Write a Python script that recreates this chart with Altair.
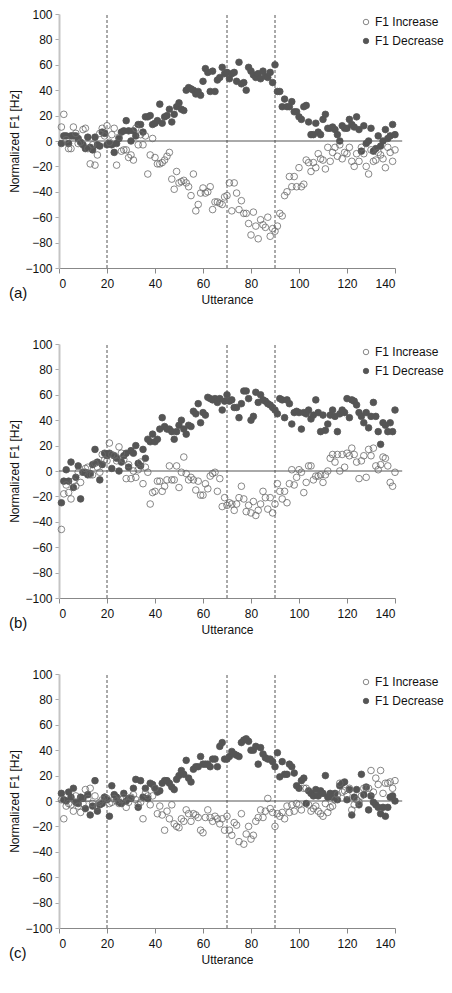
import altair as alt
import pandas as pd

utterance = list(range(1, 141))
series_names = ["F1 Increase", "F1 Decrease"]
x_ticks = [0, 20, 40, 60, 80, 100, 120, 140]
y_ticks = [-100, -80, -60, -40, -20, 0, 20, 40, 60, 80, 100]
boundaries = [20, 70, 90]
panel_labels = ["(a)", "(b)", "(c)"]

a_inc = [11, 21, 1, -6, -6, 11, 6, -2, -1, 9,
         10, -6, -18, -3, -19, -11, 6, 10, 4, 12,
         -1, 5, 10, -19, 3, -8, -7, -7, -13, -11,
         -15, 10, -3, 5, -3, 4, -26, -11, 2, -13,
         -18, -18, -17, -15, -12, -9, -30, -38, -24, -33,
         -32, -31, -33, -36, -43, -26, -55, -50, -41, -37,
         -41, -40, -36, -54, -48, -48, -49, -50, -44, -43,
         -33, -55, -33, -41, -54, -47, -57, -57, -65, -74,
         -56, -67, -77, -62, -66, -68, -60, -75, -69, -71,
         -67, -57, -59, -43, -40, -28, -36, -28, -36, -21,
         -36, -34, -15, -17, -24, -17, -21, -10, -14, -15,
         -22, -5, -16, -9, -5, -12, -3, -14, -9, -10,
         -5, -16, -20, -10, -16, -5, -10, -20, -26, -7,
         -16, -15, -9, -11, -14, -21, -5, -9, -16, -7]
a_dec = [-2, 4, 4, -2, 4, 4, 4, 2, -1, -3,
         -6, 3, -5, -7, 3, -3, -4, 7, 6, -3,
         -2, -3, -9, -2, 2, 7, 8, 16, 8, 0,
         8, 4, 13, 13, 7, 19, 19, 20, 13, 14,
         16, 29, 14, 19, 20, 25, 15, 21, 27, 30,
         25, 24, 40, 42, 41, 40, 37, 39, 36, 47,
         57, 54, 39, 55, 39, 48, 50, 58, 53, 54,
         49, 53, 54, 47, 62, 45, 46, 40, 58, 55,
         52, 50, 53, 49, 55, 51, 50, 54, 46, 60,
         39, 39, 27, 33, 27, 27, 31, 23, 23, 19,
         17, 27, 28, 15, 5, 5, 14, 7, 5, 17,
         21, 10, 10, 11, 9, 5, 0, 12, 10, 10,
         17, 13, 11, 19, 9, -8, 12, -2, 0, 10,
         -8, -6, 4, -4, 0, 9, 2, 4, 13, 5]

b_inc = [-46, -18, -11, -17, -22, -8, -12, -1, -9, -1,
         2, 3, -3, -3, 6, 3, -1, 13, 9, 8,
         22, 13, 12, 8, 19, 14, 9, -6, 5, -6,
         0, -5, 1, 7, -10, 3, -1, -26, -17, -16,
         -8, -8, -16, -12, -7, 4, -7, -7, 4, -13,
         -1, 11, -2, -7, -5, -7, -15, -8, -19, -19,
         -10, -14, -4, -2, -1, -16, -6, -28, -21, -27,
         -25, -26, -31, -26, -21, -12, -22, -32, -27, -33,
         -24, -35, -31, -26, -16, -21, -30, -21, -33, -26,
         -10, -16, -22, -16, -25, -10, 1, -11, -5, 1,
         -1, -17, -9, 4, 4, -7, -4, -4, -3, -9,
         -3, 0, 10, 13, 7, 13, 0, 13, 3, 14,
         12, 18, 13, 7, -6, 8, 12, -5, 17, 12,
         18, 4, 1, 5, 11, 10, 4, -9, -12, -1]
b_dec = [-25, -8, 1, -8, 7, -13, -5, 4, -22, -1,
         -1, -3, -2, 5, 17, 7, -7, 5, 14, 12,
         14, 2, 12, 10, 0, 7, 12, 14, 3, 16,
         14, 20, 6, 4, 17, 10, 25, 23, 29, 23,
         25, 33, 42, 35, 33, 33, 31, 25, 31, 36,
         40, 33, 29, 36, 35, 47, 45, 53, 38, 46,
         44, 58, 57, 56, 57, 54, 57, 48, 55, 60,
         55, 56, 50, 50, 42, 53, 63, 63, 57, 40,
         43, 62, 54, 60, 56, 55, 53, 52, 50, 48,
         45, 57, 56, 42, 56, 53, 37, 46, 47, 46,
         33, 46, 45, 48, 41, 44, 56, 46, 31, 44,
         32, 37, 44, 48, 43, 31, 45, 48, 46, 57,
         42, 56, 55, 52, 46, 43, 38, 46, 34, 43,
         54, 43, 31, 21, 38, 36, 31, 38, 31, 48]

c_inc = [1, -14, -4, -2, -3, -8, 4, -4, -9, -2,
         9, 2, 10, -2, 4, -4, -1, 1, 3, 2,
         -2, -1, 2, 0, -2, 1, 3, -5, -1, 3,
         5, 1, -3, -1, -14, 6, 4, -3, 4, 10,
         -10, -4, -11, -23, -8, -14, -3, -18, -20, -21,
         -14, -16, -7, -10, -16, -10, -11, -13, -23, -25,
         -13, -7, -13, -16, -12, -14, -18, -14, -23, -12,
         -23, -27, -17, -19, -32, -10, -34, -26, -20, -30,
         -27, -16, -13, -7, -13, -8, 2, -6, -9, -20,
         -10, -12, -9, -14, -4, -9, -3, -8, -2, -3,
         -7, 10, 10, -3, -8, -6, -4, -8, -10, -12,
         -2, -9, -5, -4, 1, 5, 14, 7, 8, 5,
         10, -7, -3, 1, -1, 4, 10, 10, 10, 24,
         7, 18, 13, 24, 6, 14, 14, 15, 10, 16]
c_dec = [6, 1, 0, 7, 3, 10, -1, -2, 3, 2,
         -6, 5, -11, -4, 16, -8, -3, -2, 3, 1,
         -12, 12, 5, 3, -1, -2, 6, 0, 2, 2,
         10, 17, -5, 16, 3, 10, 2, 14, 13, 10,
         7, 8, 14, 16, 16, 14, 11, 9, 17, 20,
         24, 21, 32, 18, 15, 25, 27, 27, 35, 29,
         29, 29, 27, 33, 33, 27, 43, 46, 33, 33,
         35, 39, 37, 36, 35, 46, 48, 49, 47, 40,
         40, 43, 29, 42, 37, 34, 33, 33, 31, 27,
         38, 19, 31, 21, 21, 29, 27, 22, 12, 10,
         16, 18, -2, 8, 6, 4, 9, 4, 8, 6,
         20, 3, 6, 3, 6, 1, 12, 14, 15, 1,
         9, -11, 3, 9, -3, 21, 5, 11, -7, 4,
         -1, -3, -5, -10, -5, -12, -5, 3, 4, 0]

FONT = "Liberation Sans"
PW = 336
PH = 254


def legend():
    return alt.Legend(orient="none", legendX=PW - 35, legendY=2, title=None,
                      symbolSize=30, labelFontSize=12, rowPadding=7,
                      labelOffset=3, padding=0, labelFont=FONT,
                      labelColor="#111111", symbolStrokeWidth=0.8, labelLimit=80)


def xaxis():
    return alt.Axis(values=x_ticks, title="Utterance", grid=False,
                    tickSize=5, tickColor="#888888", domainColor="#888888",
                    labelPadding=5, titlePadding=5, labelOverlap=False)


def yaxis():
    return alt.Axis(values=y_ticks, title="Normalized F1 [Hz]", grid=False,
                    tickSize=4, tickColor="#aaaaaa", domainColor="#c4c4c4",
                    domainWidth=2, labelPadding=3, titlePadding=3,
                    labelOverlap=False)


def panel(inc, dec, label):
    df = pd.DataFrame({
        "Utterance": utterance + utterance,
        "F1": dec + inc,
        "Series": [series_names[1]] * len(dec) + [series_names[0]] * len(inc),
    })
    xs = alt.Scale(domain=[0, 140], nice=False)
    ys = alt.Scale(domain=[-100, 100], nice=False)

    pts = alt.Chart(df).mark_point(
        shape="circle", filled=True, size=44, strokeWidth=0.8, opacity=1
    ).encode(
        x=alt.X("Utterance:Q", scale=xs, axis=xaxis()),
        y=alt.Y("F1:Q", scale=ys, axis=yaxis()),
        fill=alt.Fill("Series:N",
                      scale=alt.Scale(domain=series_names, range=["transparent", "#555555"]),
                      legend=legend()),
        stroke=alt.Stroke("Series:N",
                          scale=alt.Scale(domain=series_names, range=["#6a6a6a", "#555555"]),
                          legend=legend()),
    )
    vlines = alt.Chart(pd.DataFrame({"b": boundaries})).mark_rule(
        strokeDash=[3, 2], color="#555555", strokeWidth=1
    ).encode(
        x=alt.X("b:Q", scale=xs, axis=xaxis()),
        y=alt.YDatum(-100, scale=ys, axis=yaxis()),
        y2=alt.datum(100),
    )
    zero = alt.Chart(pd.DataFrame({"z": [0]})).mark_rule(
        color="#555555", strokeWidth=1
    ).encode(
        y=alt.Y("z:Q", scale=ys, axis=yaxis()),
        x=alt.XDatum(0, scale=xs, axis=xaxis()),
        x2=alt.datum(143),
    )
    return alt.layer(vlines, zero, pts).properties(
        width=PW, height=PH,
        title=alt.TitleParams(text=label, orient="bottom", anchor="start", fontSize=15,
                              fontWeight="normal", font=FONT, color="#111111", offset=-19),
    )


chart = alt.vconcat(
    panel(a_inc, a_dec, panel_labels[0]),
    panel(b_inc, b_dec, panel_labels[1]),
    panel(c_inc, c_dec, panel_labels[2]),
    spacing=33,
).resolve_scale(
    fill="independent", stroke="independent"
).resolve_legend(
    fill="independent", stroke="independent"
).properties(
    padding=0
).configure_view(
    stroke=None
).configure_axis(
    labelFont=FONT, titleFont=FONT, labelFontSize=12, titleFontSize=12,
    titleFontWeight="normal", labelColor="#111111", titleColor="#111111"
)

chart.save("out.html", embed_options={"renderer": "svg", "actions": False})
